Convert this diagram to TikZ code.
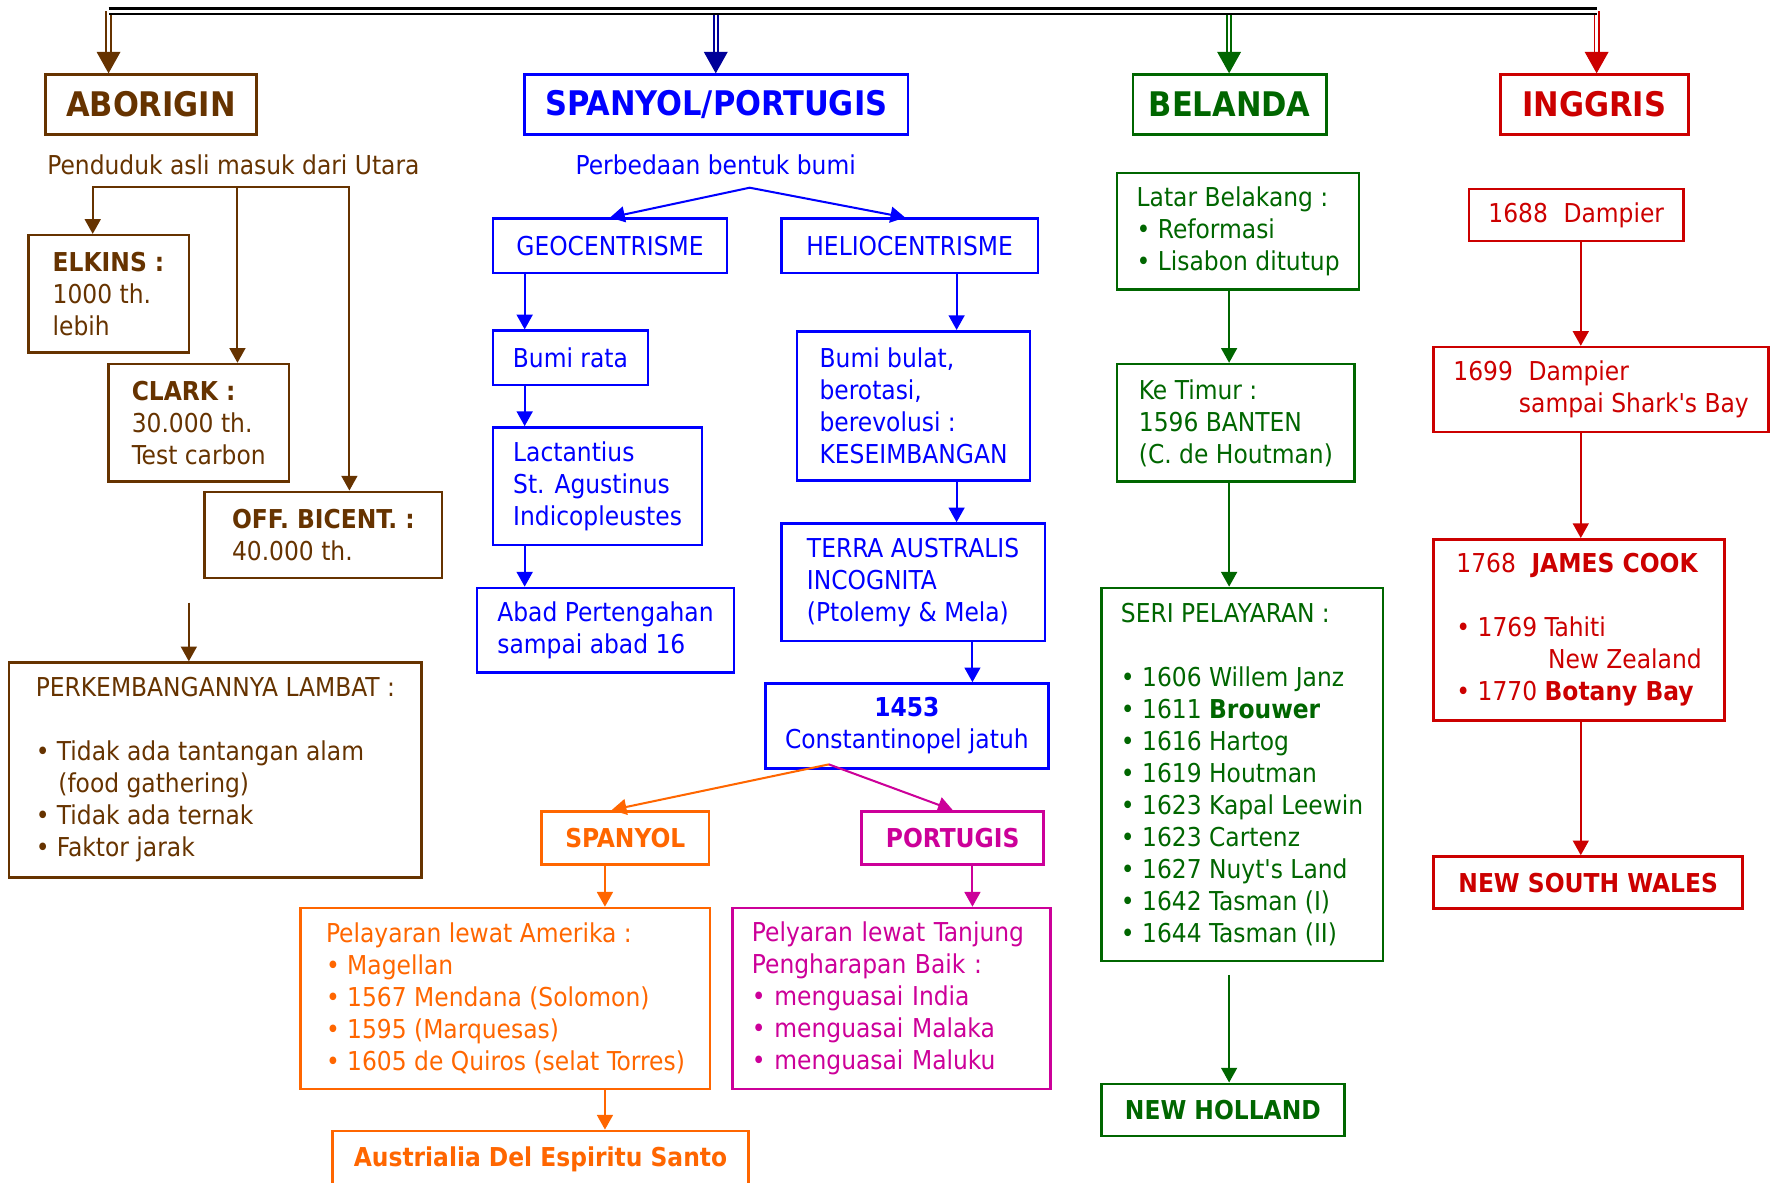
\documentclass[tikz,border=0pt]{standalone}
\usepackage{fontspec}
\setmainfont{DejaVu Sans Condensed}[BoldFont={DejaVu Sans Condensed Bold}]
\usetikzlibrary{arrows.meta,calc}
\definecolor{brn}{HTML}{663300}
\definecolor{blu}{HTML}{0000FF}
\definecolor{dblu}{HTML}{000099}
\definecolor{grn}{HTML}{006600}
\definecolor{rd}{HTML}{CC0000}
\definecolor{org}{HTML}{FF6600}
\definecolor{mag}{HTML}{CC0099}
\newcommand\tfbody{\fontsize{23pt}{28.3pt}\selectfont}
\newcommand\tfhead{\fontsize{30pt}{36pt}\selectfont\bfseries}

\begin{document}
\begin{tikzpicture}[x=1pt,y=-1pt,
  box/.style={draw=#1, text=#1, line width=2.3pt, inner sep=0pt, align=left, font=\tfbody},
  hd/.style={box=#1, align=center, font=\tfhead},
  sb/.style={box=#1, align=center, font=\tfbody\bfseries},
  lbl/.style={text=#1, inner sep=0pt, font=\tfbody},
  wh/.style 2 args={minimum width=#1pt, minimum height=#2pt},
  arr/.style={draw=#1, line width=1.8pt, -{Triangle[width=14pt,length=13pt]}},
  arrtwo/.style={draw=#1, line width=1.8pt, {Triangle[width=14pt,length=13pt]}-{Triangle[width=14pt,length=13pt]}},
  bar/.style={draw=black, line width=2pt, double=white, double distance=3pt},
  shaft/.style={draw=#1, line width=1.6pt, double=white, double distance=2.2pt, shorten >=18pt},
  bigtip/.style={draw=#1, line width=1pt, -{Triangle[width=21pt,length=19pt]}},
]
\useasboundingbox (0,0) rectangle (1568,1046);
\clip (0,0) rectangle (1568,1046);

% ---------- column headings ----------
\node[hd=brn, wh={187}{53}] (abor) at (133.5,92.5) {ABORIGIN};
\node[hd=blu, wh={339}{53}] (spp) at (633.5,92.5) {SPANYOL/PORTUGIS};
\node[hd=grn, wh={171}{53}] (bel) at (1087.5,92.5) {BELANDA};
\node[hd=rd, wh={166}{53}] (ing) at (1410,92.5) {INGGRIS};

% top distribution bar with double shafts
\coordinate (tA) at (96,10);
\coordinate (tB) at (633,10);
\coordinate (tC) at (1087,10);
\coordinate (tD) at (1412,10);
\draw[shaft=brn] (tA) -- (abor.north -| tA);
\draw[shaft=dblu] (tB) -- (spp.north -| tB);
\draw[shaft=grn] (tC) -- (bel.north -| tC);
\draw[shaft=rd] (tD) -- (ing.north -| tD);
\draw[bar] (tA) -- (tD);
\draw[bigtip=brn] ($(abor.north -| tA)+(0,-19)$) -- (abor.north -| tA);
\draw[bigtip=dblu] ($(spp.north -| tB)+(0,-19)$) -- (spp.north -| tB);
\draw[bigtip=grn] ($(bel.north -| tC)+(0,-19)$) -- (bel.north -| tC);
\draw[bigtip=rd] ($(ing.north -| tD)+(0,-19)$) -- (ing.north -| tD);

% ---------- Aborigin ----------
\node[lbl=brn] (pend) at (206.5,146) {Penduduk asli masuk dari Utara};
\node[box=brn, wh={142}{104}] (elk) at (96,260) {\textbf{ELKINS :}\\1000 th.\\lebih};
\node[box=brn, wh={159.5}{104}] (clk) at (175.75,374) {\textbf{CLARK :}\\30.000 th.\\Test carbon};
\node[box=brn, wh={210}{76}] (off) at (286,473) {\textbf{OFF. BICENT. :}\\40.000 th.};
\node[box=brn, wh={365}{190}] (perk) at (190.5,681) {PERKEMBANGANNYA LAMBAT :\\[28.3pt]• Tidak ada tantangan alam\\\hspace*{20pt}(food gathering)\\• Tidak ada ternak\\• Faktor jarak};

\coordinate (hL) at (82,165);
\coordinate (hM) at (210,165);
\coordinate (hR) at (309,165);
\draw[arr=brn] (hM) -- (hL) -- (hL |- elk.north);
\draw[arr=brn] (hM) -- (hR) -- (hR |- off.north);
\draw[arr=brn] (hM) -- (hM |- clk.north);
\coordinate (pk) at (167,533);
\draw[arr=brn] (pk) -- (pk |- perk.north);

% ---------- Spanyol / Portugis ----------
\node[lbl=blu] (perb) at (633,146) {Perbedaan bentuk bumi};
\node[box=blu, wh={207}{48}] (geo) at (539.5,217.5) {GEOCENTRISME};
\node[box=blu, wh={227}{48}] (hel) at (804.5,217.5) {HELIOCENTRISME};
\node[box=blu, wh={137}{48}] (bumr) at (504.5,316.5) {Bumi rata};
\node[box=blu, wh={185}{104}] (lac) at (528.5,430) {Lactantius\\St. Agustinus\\Indicopleustes};
\node[box=blu, wh={227}{75}] (abad) at (535.5,557.5) {Abad Pertengahan\\sampai abad 16};
\node[box=blu, wh={206}{132}] (bumb) at (808,359) {Bumi bulat,\\berotasi,\\berevolusi :\\KESEIMBANGAN};
\node[box=blu, wh={233}{104}] (terra) at (807.5,515) {TERRA AUSTRALIS\\INCOGNITA\\(Ptolemy \& Mela)};
\node[box=blu, wh={250}{75}, align=center] (fall) at (802,642) {\textbf{1453}\\Constantinopel jatuh};

\coordinate (apa) at (663,166);
\draw[arrtwo=blu] (geo.north) -- (apa) -- ([xshift=-4pt]hel.north);
\coordinate (xa) at (464,0);
\coordinate (xb) at (846,0);
\coordinate (xc) at (860,0);
\draw[arr=blu] (geo.south -| xa) -- (bumr.north -| xa);
\draw[arr=blu] (bumr.south -| xa) -- (lac.north -| xa);
\draw[arr=blu] (lac.south -| xa) -- (abad.north -| xa);
\draw[arr=blu] (hel.south -| xb) -- (bumb.north -| xb);
\draw[arr=blu] (bumb.south -| xb) -- (terra.north -| xb);
\draw[arr=blu] (terra.south -| xc) -- (fall.north -| xc);

\node[sb=org, wh={148}{47}] (spn) at (553,741) {SPANYOL};
\node[sb=mag, wh={161}{47}] (por) at (842.5,741) {PORTUGIS};
\coordinate (apb) at (733,676);
\draw[arr=org] (apb) -- ([xshift=-12pt]spn.north);
\draw[arr=mag] (apb) -- (por.north);

\node[box=org, wh={362}{160}] (pel) at (447,883) {Pelayaran lewat Amerika :\\• Magellan\\• 1567 Mendana (Solomon)\\• 1595 (Marquesas)\\• 1605 de Quiros (selat Torres)};
\node[box=mag, wh={281}{160}, text width=247pt] (pely) at (788.5,883) {Pelyaran lewat Tanjung\\Pengharapan Baik :\\• menguasai India\\• menguasai Malaka\\• menguasai Maluku};
\node[sb=org, minimum width=368pt, minimum height=50pt, anchor=north] (aus) at (478,999) {Austrialia Del Espiritu Santo};

\coordinate (xd) at (535,0);
\draw[arr=org] (spn.south -| xd) -- (pel.north -| xd);
\draw[arr=org] (pel.south -| xd) -- (aus.north -| xd);
\draw[arr=mag] (por.south -| xc) -- (pely.north -| xc);

% ---------- Belanda ----------
\node[box=grn, wh={214}{103}] (lat) at (1095,204.5) {Latar Belakang :\\• Reformasi\\• Lisabon ditutup};
\node[box=grn, wh={210}{104}] (ket) at (1093,374) {Ke Timur :\\1596 BANTEN\\(C. de Houtman)};
\node[box=grn, wh={249}{330}] (seri) at (1098.5,685) {SERI PELAYARAN :\\[28.3pt]• 1606 Willem Janz\\• 1611 \textbf{Brouwer}\\• 1616 Hartog\\• 1619 Houtman\\• 1623 Kapal Leewin\\• 1623 Cartenz\\• 1627 Nuyt\textquotesingle s Land\\• 1642 Tasman (I)\\• 1644 Tasman (II)};
\node[sb=grn, wh={215}{46}] (nh) at (1081.5,981.5) {NEW HOLLAND};
\coordinate (xe) at (1087,0);
\draw[arr=grn] (lat.south -| xe) -- (ket.north -| xe);
\draw[arr=grn] (ket.south -| xe) -- (seri.north -| xe);
\draw[arr=grn, shorten <=11pt] (seri.south -| xe) -- (nh.north -| xe);

% ---------- Inggris ----------
\node[box=rd, wh={190}{46}] (d88) at (1394,190) {1688\hspace{0.6em}Dampier};
\node[box=rd, wh={296}{75}] (d99) at (1416,344.5) {1699\hspace{0.6em}Dampier\\\hspace*{58pt}sampai Shark\textquotesingle s Bay};
\node[box=rd, wh={257}{160}] (cook) at (1396.5,557) {1768\hspace{0.6em}\textbf{JAMES COOK}\\[28.3pt]• 1769 Tahiti\\\hspace*{81pt}New Zealand\\• 1770 \textbf{Botany Bay}};
\node[sb=rd, wh={273}{46}] (nsw) at (1404.5,780.5) {NEW SOUTH WALES};
\coordinate (xf) at (1398,0);
\draw[arr=rd] (d88.south -| xf) -- (d99.north -| xf);
\draw[arr=rd] (d99.south -| xf) -- (cook.north -| xf);
\draw[arr=rd] (cook.south -| xf) -- (nsw.north -| xf);
\end{tikzpicture}
\end{document}
